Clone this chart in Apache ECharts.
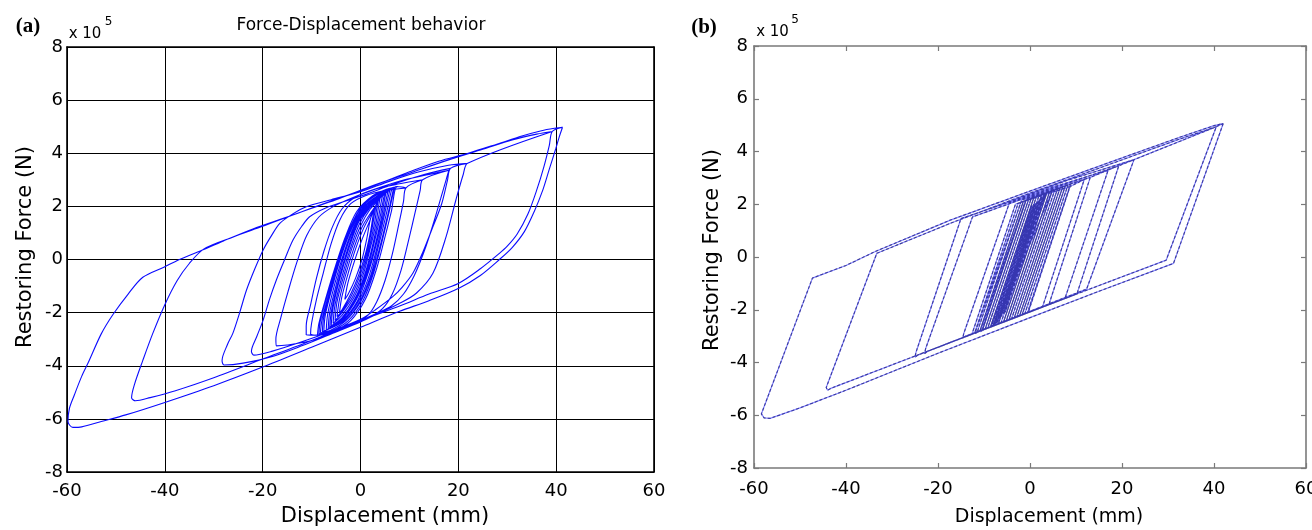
<!DOCTYPE html>
<html>
<head>
<meta charset="utf-8">
<style>
    html, body { margin: 0; padding: 0; background: #fff; overflow: hidden; }
    #chart { width: 1312px; height: 530px; }
</style>
</head>
<body>
<div id="chart"></div>
<script src="https://cdn.jsdelivr.net/npm/echarts/dist/echarts.min.js"></script>
<script>
    // axis ranges (x in mm, y in x10^5 N)
    var xMin = -60, xMax = 60, xStep = 20;
    var yMin = -8, yMax = 8, yStep = 2;
    var xName = 'Displacement (mm)';
    var yName = 'Restoring Force (N)';
    var titleA = 'Force-Displacement behavior';

    // ---- (a) smooth hysteresis loops, each starts/ends at its upper right tip
    var loopA1 = [[41.3,4.98],[40.6,4.6],[39.9,4.16],[38.6,3.4],[37.3,2.63],[35.5,1.8],[33.5,1.05],[31,0.45],[28.4,0.0],[24.5,-0.6],[20.2,-1.07],[14,-1.55],[8,-1.95],[0,-2.55],[-10,-3.3],[-20,-4.05],[-30,-4.75],[-40,-5.38],[-48,-5.85],[-53,-6.1],[-57,-6.3],[-58.8,-6.32],[-59.8,-6.1],[-59.5,-5.6],[-58.5,-5.1],[-57,-4.4],[-55.7,-3.9],[-53,-2.8],[-50.6,-2.07],[-47.5,-1.3],[-44.5,-0.67],[-40.2,-0.29],[-37,0.0],[-33.3,0.28],[-28,0.7],[-22,1.15],[-15,1.6],[-9,2.0],[-3,2.4],[3,2.8],[10,3.3],[16,3.7],[22,4.0],[28,4.35],[33,4.65],[37,4.85],[40,4.95],[41.3,4.98]];
    var loopA2 = [[39.2,4.82],[38.6,4.3],[37.5,3.5],[36,2.6],[34.2,1.7],[32,0.95],[30,0.5],[28.4,0.23],[24.5,-0.35],[20,-0.9],[14,-1.3],[8,-1.75],[0,-2.3],[-10,-3.05],[-20,-3.75],[-30,-4.45],[-38,-4.95],[-43,-5.2],[-46,-5.32],[-46.8,-5.2],[-46.2,-4.7],[-44.5,-3.8],[-42.5,-2.8],[-40,-1.7],[-37.5,-0.8],[-35,-0.15],[-32,0.4],[-26,0.85],[-20,1.25],[-12,1.8],[-5,2.25],[2,2.75],[10,3.25],[18,3.75],[25,4.15],[31,4.5],[36,4.72],[39.2,4.82]];
    var loopA3 = [[21.9,3.62],[21,3.2],[19.5,2.24],[17.5,0.86],[14.8,-0.52],[11.4,-1.27],[8,-1.65],[4,-2.0],[0,-2.35],[-6,-2.8],[-12,-3.25],[-18,-3.65],[-24,-3.9],[-27.9,-3.97],[-28.3,-3.8],[-27.2,-3.2],[-26.1,-2.78],[-24.7,-2.0],[-23.3,-1.15],[-21.6,-0.35],[-19.9,0.36],[-18.2,0.9],[-16.5,1.36],[-14,1.7],[-11.1,1.99],[-6,2.25],[0,2.55],[6,2.95],[12,3.3],[18,3.55],[21.9,3.62]];
    var loopA4 = [[18.4,3.43],[17.8,3.0],[16.6,2.1],[14.8,1.23],[12.8,0.3],[10.7,-0.52],[8.5,-1.05],[6.6,-1.4],[3,-1.9],[0,-2.25],[-6,-2.7],[-12,-3.1],[-18,-3.45],[-21.8,-3.6],[-22.3,-3.45],[-21.2,-2.9],[-19.9,-2.28],[-18.6,-1.5],[-17.2,-0.77],[-15.5,0.0],[-13.8,0.73],[-12,1.25],[-10.4,1.61],[-7,1.95],[-3,2.2],[1,2.45],[7,2.85],[13,3.2],[18.4,3.43]];
    var loopA5 = [[18.1,3.36],[17.5,3.0],[16.4,2.3],[14.8,1.3],[13,0.3],[11,-0.6],[8.8,-1.3],[6.3,-1.75],[3,-2.05],[0,-2.3],[-5,-2.7],[-10,-3.05],[-15,-3.22],[-17.2,-3.25],[-17.3,-3.0],[-16.3,-2.2],[-14.8,-1.2],[-13,-0.1],[-11,0.9],[-8.5,1.6],[-5.5,2.0],[-2,2.3],[3,2.65],[9,3.0],[14,3.2],[18.1,3.36]];
    var loopA6 = [[12.7,3.0],[12.2,2.6],[11.2,1.8],[9.8,0.7],[8.3,-0.4],[6.5,-1.3],[4.5,-1.85],[2,-2.15],[-2,-2.45],[-6,-2.7],[-9.5,-2.85],[-11.1,-2.84],[-11.1,-2.5],[-10.2,-1.7],[-9,-0.7],[-7.5,0.3],[-5.8,1.2],[-3.8,1.9],[-1,2.35],[3,2.65],[8,2.85],[12.7,3.0]];
    var loopA7 = [[9.3,2.7],[8.8,2.2],[7.8,1.3],[6.5,0.2],[5,-0.8],[3.3,-1.6],[1.5,-2.1],[-1.5,-2.45],[-5,-2.7],[-8.5,-2.85],[-10.2,-2.8],[-10,-2.4],[-9,-1.5],[-7.6,-0.5],[-6,0.6],[-4.2,1.5],[-2,2.1],[1,2.4],[5,2.6],[9.3,2.7]];
    var loopC1 = [[7.5,2.75],[6.3,1.8],[4.8,0.7],[3.2,-0.4],[1,-1.5],[-2,-2.3],[-5.5,-2.7],[-8.8,-2.85],[-8.5,-2.4],[-7,-1.4],[-5.2,-0.3],[-3.2,0.8],[-0.8,1.8],[2.5,2.4],[5.5,2.65],[7.5,2.75]];
    var loopC2 = [[6.8,2.7],[5.6,1.7],[4.0,0.5],[2.3,-0.6],[0,-1.6],[-3,-2.3],[-6,-2.65],[-8.2,-2.75],[-7.8,-2.2],[-6.3,-1.2],[-4.5,-0.1],[-2.5,1.0],[0,1.9],[3,2.4],[6.8,2.7]];
    var loopC3 = [[6,2.6],[4.8,1.6],[3.3,0.4],[1.6,-0.7],[-0.5,-1.6],[-3.5,-2.3],[-7.5,-2.7],[-7.2,-2.1],[-5.7,-1.0],[-3.8,0.2],[-1.7,1.2],[1,2.0],[3.8,2.4],[6,2.6]];
    var loopC4 = [[5.2,2.5],[4.2,1.5],[2.8,0.4],[1.2,-0.6],[-0.8,-1.5],[-3.5,-2.2],[-6.6,-2.6],[-6.3,-2.0],[-4.9,-0.9],[-3.1,0.3],[-1,1.3],[1.6,2.0],[5.2,2.5]];
    var loopC5 = [[4.5,2.4],[3.6,1.5],[2.3,0.4],[0.8,-0.6],[-1.2,-1.5],[-3.8,-2.2],[-6,-2.5],[-5.6,-1.8],[-4.2,-0.7],[-2.4,0.4],[-0.4,1.4],[2,2.0],[4.5,2.4]];
    var loopC6 = [[3.6,2.2],[2.8,1.3],[1.6,0.3],[0.2,-0.6],[-1.6,-1.4],[-3.8,-2.0],[-5.2,-2.3],[-4.8,-1.6],[-3.4,-0.6],[-1.8,0.4],[0.1,1.3],[2,1.9],[3.6,2.2]];
    var loopC7 = [[2.8,1.9],[2.1,1.1],[1.0,0.2],[-0.4,-0.6],[-2,-1.3],[-3.8,-1.9],[-4.3,-2.0],[-3.8,-1.4],[-2.5,-0.5],[-1,0.4],[0.7,1.2],[2.8,1.9]];
    var loopC8 = [[2,1.5],[1.3,0.8],[0.3,0],[-1,-0.7],[-2.5,-1.3],[-3.2,-1.5],[-2.6,-0.9],[-1.3,-0.1],[0.2,0.7],[2,1.5]];
    var loopC9 = [[7.0,2.72],[5.8,1.75],[4.3,0.6],[2.7,-0.5],[0.5,-1.55],[-2.5,-2.3],[-5.8,-2.68],[-8.5,-2.8],[-8.2,-2.3],[-6.7,-1.3],[-4.8,-0.2],[-2.8,0.9],[-0.3,1.85],[2.8,2.4],[7.0,2.72]];
    var loopC10 = [[6.4,2.65],[5.2,1.65],[3.6,0.45],[2.0,-0.65],[-0.2,-1.6],[-3.2,-2.3],[-7.8,-2.72],[-7.5,-2.15],[-6.0,-1.1],[-4.1,0.1],[-2.1,1.1],[0.5,1.95],[3.5,2.4],[6.4,2.65]];
    var loopC11 = [[5.6,2.55],[4.5,1.55],[3.0,0.4],[1.4,-0.6],[-0.6,-1.55],[-3.5,-2.25],[-7.0,-2.65],[-6.7,-2.05],[-5.3,-0.95],[-3.4,0.25],[-1.3,1.25],[1.3,2.0],[5.6,2.55]];
    var loopC12 = [[4.9,2.45],[3.9,1.5],[2.5,0.4],[1.0,-0.6],[-1.0,-1.5],[-3.6,-2.2],[-6.3,-2.55],[-5.9,-1.9],[-4.5,-0.8],[-2.7,0.35],[-0.7,1.35],[1.8,2.0],[4.9,2.45]];
    var loopC13 = [[4.0,2.3],[3.2,1.4],[1.9,0.35],[0.5,-0.6],[-1.4,-1.45],[-3.8,-2.1],[-5.6,-2.4],[-5.2,-1.7],[-3.8,-0.65],[-2.1,0.4],[-0.2,1.35],[1.9,1.95],[4.0,2.3]];
    var loopC14 = [[3.2,2.05],[2.4,1.2],[1.3,0.25],[-0.1,-0.6],[-1.8,-1.35],[-3.8,-1.95],[-4.8,-2.15],[-4.3,-1.5],[-3.0,-0.55],[-1.4,0.4],[0.4,1.25],[3.2,2.05]];

    // ---- (b) bilinear loops
    var loopB1 = [[42,5.06],[31.2,-0.24],[15,-1.3],[0,-2.3],[-20,-3.65],[-40,-5.05],[-50,-5.72],[-56.5,-6.12],[-57.8,-6.1],[-58.4,-5.95],[-47.3,-0.8],[-40,-0.32],[-33.5,0.22],[-17.3,1.4],[0,2.5],[19.1,3.7],[32.7,4.55],[40,4.98],[42,5.06]];
    var loopB1b = [[40.5,4.94],[29.6,-0.12],[12,-1.28],[-20,-3.42],[-43.3,-4.98],[-44,-5.05],[-44.3,-4.95],[-33.3,0.14],[-17,1.3],[0,2.42],[19,3.62],[32.5,4.47],[40.5,4.94]];
    var loopB2 = [[22.6,3.69],[12.3,-1.22],[-24.4,-3.72],[-25,-3.8],[-24.8,-3.62],[-15,1.46],[-5,2.05],[8,2.9],[22.6,3.69]];
    var loopB3 = [[19.3,3.46],[10.2,-1.4],[-22.3,-3.58],[-22.9,-3.66],[-22.7,-3.48],[-12.5,1.52],[0,2.3],[19.3,3.46]];
    var loopB4 = [[17,3.3],[7.6,-1.57],[-14,-3.0],[-14.6,-3.06],[-14.4,-2.9],[-4.5,2.04],[5,2.65],[17,3.3]];
    var loopB5 = [[13.1,3.02],[4.1,-1.81],[-11.3,-2.84],[-11.9,-2.9],[-11.7,-2.75],[-1.8,2.16],[13.1,3.02]];
    var loopB6 = [[11.8,2.94],[2.7,-1.9],[-10.3,-2.77],[-10.8,-2.84],[-10.6,-2.68],[-0.8,2.2],[11.8,2.94]];
    var loopB7 = [[8.7,2.67],[-0.4,-2.11],[-9.9,-2.74],[-10.4,-2.8],[-10.2,-2.64],[-1.0,2.13],[8.7,2.67]];
    var loopD1 = [[5.97,2.58],[-3.44,-2.31],[-10.9,-2.81],[-1.45,2.11],[5.97,2.58]];
    var loopD2 = [[7.1,2.65],[-2.3,-2.24],[-10.33,-2.77],[-0.88,2.14],[7.1,2.65]];
    var loopD3 = [[5.4,2.55],[-4.02,-2.35],[-9.76,-2.74],[-0.31,2.18],[5.4,2.55]];
    var loopD4 = [[6.54,2.62],[-2.87,-2.27],[-9.18,-2.69],[0.26,2.22],[6.54,2.62]];
    var loopD5 = [[4.83,2.51],[-4.59,-2.39],[-8.61,-2.66],[0.83,2.25],[4.83,2.51]];
    var loopD6 = [[7.68,2.69],[-1.72,-2.19],[-11.48,-2.85],[-2.02,2.07],[7.68,2.69]];
    var loopD7 = [[5.97,2.58],[-3.44,-2.31],[-8.04,-2.62],[1.4,2.29],[5.97,2.58]];
    var loopD8 = [[4.25,2.47],[-5.17,-2.43],[-10.33,-2.77],[-0.88,2.14],[4.25,2.47]];
    var loopD9 = [[8.25,2.73],[-1.15,-2.16],[-9.76,-2.74],[-0.31,2.18],[8.25,2.73]];
    var loopD10 = [[7.1,2.65],[-2.3,-2.24],[-8.61,-2.66],[0.83,2.25],[7.1,2.65]];
    var loopD11 = [[3.68,2.44],[-5.74,-2.46],[-9.18,-2.69],[0.26,2.22],[3.68,2.44]];
    var loopD12 = [[4.83,2.51],[-4.59,-2.39],[-10.9,-2.81],[-1.45,2.11],[4.83,2.51]];
    var loopD13 = [[3.68,2.44],[-5.74,-2.46],[-7.46,-2.58],[1.97,2.33],[3.68,2.44]];
    var loopD14 = [[4.25,2.47],[-5.17,-2.43],[-6.89,-2.54],[2.54,2.36],[4.25,2.47]];
    var loopD15 = [[8.82,2.77],[-0.57,-2.12],[-12.05,-2.89],[-2.59,2.03],[8.82,2.77]];
    var loopD16 = [[7.68,2.69],[-1.72,-2.19],[-12.63,-2.93],[-3.16,2.0],[7.68,2.69]];
    var loopD17 = [[5.4,2.55],[-4.02,-2.35],[-11.48,-2.85],[-2.02,2.07],[5.4,2.55]];
    var loopD18 = [[3.68,2.44],[-5.74,-2.46],[-9.76,-2.74],[-0.31,2.18],[3.68,2.44]];
    var loopD19 = [[3.11,2.4],[-6.31,-2.5],[-8.61,-2.66],[0.83,2.25],[3.11,2.4]];
    var loopD20 = [[8.25,2.73],[-1.15,-2.16],[-10.33,-2.77],[-0.88,2.14],[8.25,2.73]];
    var loopD21 = [[4.25,2.47],[-5.17,-2.43],[-8.04,-2.62],[1.4,2.29],[4.25,2.47]];
    var loopD22 = [[5.4,2.55],[-4.02,-2.35],[-9.18,-2.69],[0.26,2.22],[5.4,2.55]];
    var loopD23 = [[6.54,2.62],[-2.87,-2.27],[-10.9,-2.81],[-1.45,2.11],[6.54,2.62]];
    var loopD24 = [[4.83,2.51],[-4.59,-2.39],[-6.89,-2.54],[2.54,2.36],[4.83,2.51]];
    var zigE = [[-7.2,-2.5],[1.6,2.1],[-6.8,-2.35],[2.0,2.15],[-6.2,-2.25],[2.6,2.3],[-5.8,-2.15],[3.0,2.35],[-7.6,-2.55],[1.2,2.05],[-5.4,-2.1],[3.4,2.4],[-8,-2.6],[0.8,2.0]];
    var zigE2 = [[-8.4,-2.65],[0.4,1.95],[-7.9,-2.6],[1.0,2.0],[-6.6,-2.3],[2.2,2.2],[-5.6,-2.1],[3.2,2.35],[-7.0,-2.45],[1.8,2.12]];

    var pathA = [].concat(loopA1, loopA2, loopA3, loopA4, loopA5, loopA6, loopA7,
        loopC1, loopC9, loopC2, loopC10, loopC3, loopC11, loopC4, loopC12, loopC5,
        loopC13, loopC6, loopC14, loopC7, loopC8);
    var pathB = [].concat(loopB1, loopB1b, loopB2, loopB3, loopB4, loopB5, loopB6, loopB7,
        loopD15, loopD16, loopD1, loopD2, loopD3, loopD4, loopD5, loopD6, loopD7, loopD8,
        loopD9, loopD10, loopD11, loopD12, loopD13, loopD14, loopD17, loopD18, loopD19,
        loopD20, loopD21, loopD22, loopD23, loopD24, zigE, zigE2);

    var FONT = 'DejaVu Sans';

    function xAxes(gi, o) {
        var line = { onZero: false, lineStyle: { color: o.line, width: o.lw } };
        var tick = { show: o.ticks, inside: true, length: 5, lineStyle: { color: o.line, width: 1.2 } };
        return [{
            gridIndex: gi, type: 'value', position: 'bottom',
            min: xMin, max: xMax, interval: xStep,
            axisLine: line, axisTick: tick,
            axisLabel: { color: '#000', fontSize: 18, fontFamily: FONT, margin: o.xm },
            splitLine: { show: o.grid, lineStyle: { color: '#000', width: 1 } },
            name: xName, nameLocation: 'middle', nameGap: o.xg,
            nameTextStyle: { color: '#000', fontSize: o.xfs, fontFamily: FONT, padding: [0, 0, 0, o.xpad] }
        }, {
            gridIndex: gi, type: 'value', position: 'top',
            min: xMin, max: xMax, interval: xStep,
            axisLine: line, axisTick: tick,
            axisLabel: { show: false }, splitLine: { show: false }
        }];
    }
    function yAxes(gi, o) {
        var line = { onZero: false, lineStyle: { color: o.line, width: o.lw } };
        var tick = { show: o.ticks, inside: true, length: 5, lineStyle: { color: o.line, width: 1.2 } };
        return [{
            gridIndex: gi, type: 'value', position: 'left',
            min: yMin, max: yMax, interval: yStep,
            axisLine: line, axisTick: tick,
            axisLabel: { color: '#000', fontSize: 18, fontFamily: FONT, margin: o.ym },
            splitLine: { show: o.grid, lineStyle: { color: '#000', width: 1 } },
            name: yName, nameLocation: 'middle', nameGap: o.yg,
            nameTextStyle: { color: '#000', fontSize: 21, fontFamily: FONT, padding: [0, 0, 0, o.ypad] }
        }, {
            gridIndex: gi, type: 'value', position: 'right',
            min: yMin, max: yMax, interval: yStep,
            axisLine: line, axisTick: tick,
            axisLabel: { show: false }, splitLine: { show: false }
        }];
    }

    var optA = { line: '#000', lw: 1.6, ticks: false, grid: true, xm: 10, xg: 34, xfs: 21, xpad: 49, ym: 4, yg: 31, ypad: 25 };
    var optB = { line: '#7a7a7a', lw: 1.6, ticks: true, grid: false, xm: 12, xg: 40, xfs: 19, xpad: 38, ym: 6, yg: 31, ypad: 14 };

    function txt(x, y, text, font) {
        return { type: 'text', x: x, y: y, silent: true,
            style: { text: text, font: font, fill: '#000', align: 'center', verticalAlign: 'middle' } };
    }

    var chart = echarts.init(document.getElementById('chart'));
    chart.setOption({
        animation: false,
        backgroundColor: '#fff',
        grid: [
            { left: 67, top: 47, width: 587, height: 425, containLabel: false, outerBoundsMode: 'none' },
            { left: 754, top: 46, width: 552, height: 422, containLabel: false, outerBoundsMode: 'none' }
        ],
        xAxis: xAxes(0, optA).concat(xAxes(1, optB)),
        yAxis: yAxes(0, optA).concat(yAxes(1, optB)),
        graphic: [
            txt(28, 27, '(a)', 'bold 21px "Liberation Serif"'),
            txt(85, 34.5, 'x 10', '15px "DejaVu Sans"'),
            txt(108.5, 22, '5', '12px "DejaVu Sans"'),
            txt(361, 26, titleA, '17px "DejaVu Sans"'),
            txt(704, 28, '(b)', 'bold 21px "Liberation Serif"'),
            txt(772.5, 32.5, 'x 10', '15px "DejaVu Sans"'),
            txt(795, 20, '5', '12px "DejaVu Sans"')
        ],
        series: [{
            type: 'line', xAxisIndex: 0, yAxisIndex: 0, data: pathA,
            showSymbol: false, smooth: 0.3, silent: true,
            lineStyle: { color: '#0a0aff', width: 1.1 }
        }, {
            // grey dashed trace underneath
            type: 'line', xAxisIndex: 2, yAxisIndex: 2, data: pathB,
            showSymbol: false, silent: true,
            lineStyle: { color: '#505050', width: 1.1, type: [3, 2] }
        }, {
            // translucent blue trace on top
            type: 'line', xAxisIndex: 2, yAxisIndex: 2, data: pathB,
            showSymbol: false, silent: true,
            lineStyle: { color: '#2020ff', width: 1.2, opacity: 0.55 }
        }]
    });
</script>
</body>
</html>
